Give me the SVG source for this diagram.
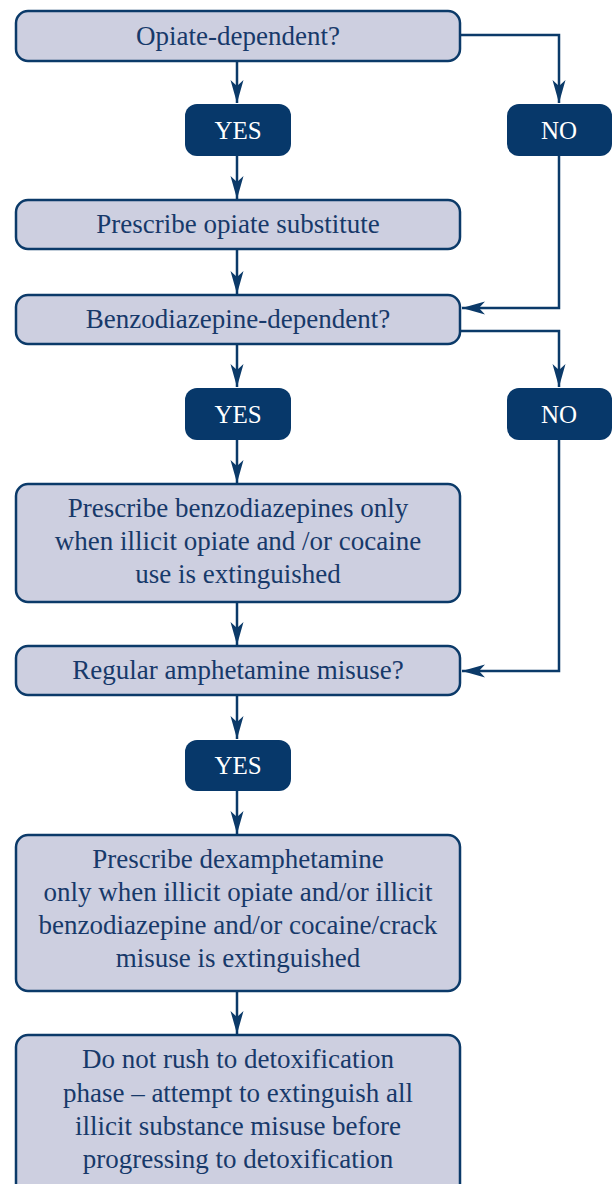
<svg xmlns="http://www.w3.org/2000/svg" width="613" height="1184" viewBox="0 0 613 1184">
<defs>
<marker id="ah" markerUnits="userSpaceOnUse" markerWidth="26" markerHeight="16" viewBox="-24 -8 26 16" refX="0" refY="0" orient="auto">
<path d="M0,0 L-23,-6.5 L-17,0 L-23,6.5 Z" fill="#0b3a69"/>
</marker>
<style>
.box{fill:#cdcfe0;stroke:#0b3a69;stroke-width:2.5}
.pill{fill:#07386a}
.t{font-family:"Liberation Serif","Times New Roman",serif;font-size:27px;fill:#17396a;text-anchor:middle}
.p{font-family:"Liberation Serif","Times New Roman",serif;font-size:25px;fill:#ffffff;text-anchor:middle}
.c{fill:none;stroke:#0b3a69;stroke-width:2.5;marker-end:url(#ah)}
</style>
</defs>
<rect width="613" height="1184" fill="#ffffff"/>
<g id="connectors">
<path class="c" d="M237,61 V103"/>
<path class="c" d="M460,35 H559 V103"/>
<path class="c" d="M237,156 V199"/>
<path class="c" d="M559,156 V308 H462"/>
<path class="c" d="M237,249 V294"/>
<path class="c" d="M460,331 H559 V387"/>
<path class="c" d="M237,344 V387"/>
<path class="c" d="M237,440 V483"/>
<path class="c" d="M559,440 V671 H462"/>
<path class="c" d="M237,602 V645"/>
<path class="c" d="M237,695 V739"/>
<path class="c" d="M237,791 V834"/>
<path class="c" d="M237,991 V1034"/>
</g>
<g id="n1"><rect class="box" x="16" y="11" width="444" height="50" rx="12"/><text class="t" x="238" y="45">Opiate-dependent?</text></g>
<g id="yes1"><rect class="pill" x="185" y="104" width="106" height="52" rx="12"/><text class="p" x="238" y="139">YES</text></g>
<g id="no1"><rect class="pill" x="507" y="104" width="105" height="52" rx="12"/><text class="p" x="559" y="139">NO</text></g>
<g id="n2"><rect class="box" x="16" y="200" width="444" height="49" rx="12"/><text class="t" x="238" y="233">Prescribe opiate substitute</text></g>
<g id="n3"><rect class="box" x="16" y="295" width="444" height="49" rx="12"/><text class="t" x="238" y="328">Benzodiazepine-dependent?</text></g>
<g id="yes2"><rect class="pill" x="185" y="388" width="106" height="52" rx="12"/><text class="p" x="238" y="423">YES</text></g>
<g id="no2"><rect class="pill" x="507" y="388" width="105" height="52" rx="12"/><text class="p" x="559" y="423">NO</text></g>
<g id="n4"><rect class="box" x="16" y="484" width="444" height="118" rx="12"/>
<text class="t" x="238" y="517">Prescribe benzodiazepines only</text>
<text class="t" x="238" y="550">when illicit opiate and /or cocaine</text>
<text class="t" x="238" y="583">use is extinguished</text></g>
<g id="n5"><rect class="box" x="16" y="646" width="444" height="49" rx="12"/><text class="t" x="238" y="679">Regular amphetamine misuse?</text></g>
<g id="yes3"><rect class="pill" x="185" y="740" width="106" height="51" rx="12"/><text class="p" x="238" y="774">YES</text></g>
<g id="n6"><rect class="box" x="16" y="835" width="444" height="156" rx="12"/>
<text class="t" x="238" y="868">Prescribe dexamphetamine</text>
<text class="t" x="238" y="901">only when illicit opiate and/or illicit</text>
<text class="t" x="238" y="934">benzodiazepine and/or cocaine/crack</text>
<text class="t" x="238" y="967">misuse is extinguished</text></g>
<g id="n7"><rect class="box" x="16" y="1035" width="444" height="165" rx="12"/>
<text class="t" x="238" y="1068">Do not rush to detoxification</text>
<text class="t" x="238" y="1102">phase – attempt to extinguish all</text>
<text class="t" x="238" y="1135">illicit substance misuse before</text>
<text class="t" x="238" y="1168">progressing to detoxification</text></g>
</svg>
